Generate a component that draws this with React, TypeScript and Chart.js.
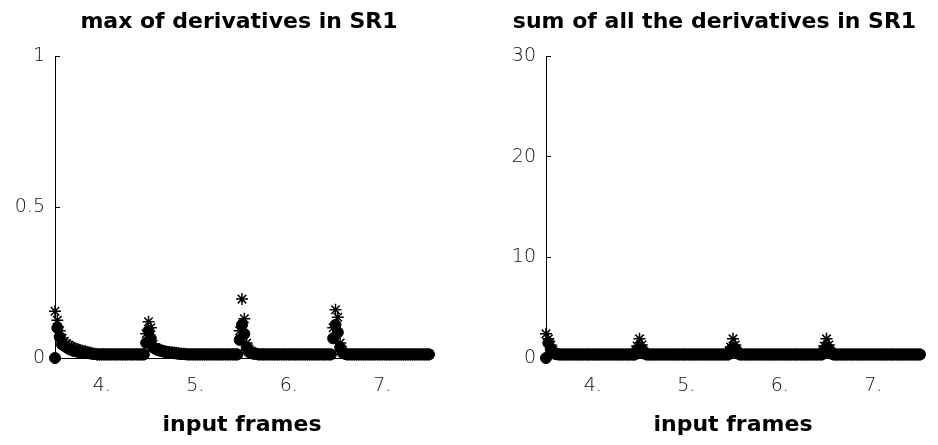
import React, { useEffect, useRef } from 'react';
import { Chart, registerables } from 'chart.js';

Chart.register(...registerables);

// ---------- data ----------
const FRAME_START = 3.5;
const FRAME_STEP = 0.025;

const X_TICKS = [4, 5, 6, 7];
const X_TICK_LABELS = ['4.', '5.', '6.', '7.'];
const LEFT_Y_TICKS = [0, 0.5, 1];
const RIGHT_Y_TICKS = [0, 10, 20, 30];

const LEFT_TITLE = 'max of derivatives in SR1';
const RIGHT_TITLE = 'sum of all the derivatives in SR1';
const X_LABEL = 'input frames';

// max of derivatives, '*' markers
const LEFT_STAR = [
  0.155, 0.125, 0.09, 0.065, 0.055, 0.047, 0.042, 0.037, 0.034, 0.031,
  0.028, 0.026, 0.024, 0.022, 0.02, 0.018, 0.016, 0.014, 0.012, 0.012,
  0.012, 0.012, 0.012, 0.012, 0.012, 0.012, 0.012, 0.012, 0.012, 0.012,
  0.012, 0.012, 0.012, 0.012, 0.012, 0.012, 0.012, 0.012, 0.012, 0.08,
  0.12, 0.1, 0.045, 0.035, 0.03, 0.027, 0.025, 0.023, 0.021, 0.02,
  0.019, 0.018, 0.017, 0.016, 0.015, 0.014, 0.013, 0.012, 0.012, 0.012,
  0.012, 0.012, 0.012, 0.012, 0.012, 0.012, 0.012, 0.012, 0.012, 0.012,
  0.012, 0.012, 0.012, 0.012, 0.012, 0.012, 0.012, 0.012, 0.012, 0.09,
  0.195, 0.13, 0.05, 0.03, 0.022, 0.018, 0.015, 0.012, 0.012, 0.012,
  0.012, 0.012, 0.012, 0.012, 0.012, 0.012, 0.012, 0.012, 0.012, 0.012,
  0.012, 0.012, 0.012, 0.012, 0.012, 0.012, 0.012, 0.012, 0.012, 0.012,
  0.012, 0.012, 0.012, 0.012, 0.012, 0.012, 0.012, 0.012, 0.012, 0.1,
  0.16, 0.135, 0.05, 0.025, 0.016, 0.012, 0.012, 0.012, 0.012, 0.012,
  0.012, 0.012, 0.012, 0.012, 0.012, 0.012, 0.012, 0.012, 0.012, 0.012,
  0.012, 0.012, 0.012, 0.012, 0.012, 0.012, 0.012, 0.012, 0.012, 0.012,
  0.012, 0.012, 0.012, 0.012, 0.012, 0.012, 0.012, 0.012, 0.012, 0.012,
  0.012,
];

// max of derivatives, 'o' markers
const LEFT_CIRC = [
  0.0, 0.1, 0.07, 0.045, 0.04, 0.035, 0.03, 0.027, 0.024, 0.022,
  0.02, 0.019, 0.018, 0.017, 0.016, 0.015, 0.014, 0.013, 0.012, 0.012,
  0.012, 0.012, 0.012, 0.012, 0.012, 0.012, 0.012, 0.012, 0.012, 0.012,
  0.012, 0.012, 0.012, 0.012, 0.012, 0.012, 0.012, 0.012, 0.012, 0.05,
  0.09, 0.065, 0.035, 0.03, 0.026, 0.024, 0.022, 0.02, 0.019, 0.018,
  0.017, 0.016, 0.015, 0.014, 0.013, 0.013, 0.012, 0.012, 0.012, 0.012,
  0.012, 0.012, 0.012, 0.012, 0.012, 0.012, 0.012, 0.012, 0.012, 0.012,
  0.012, 0.012, 0.012, 0.012, 0.012, 0.012, 0.012, 0.012, 0.012, 0.06,
  0.11, 0.08, 0.035, 0.02, 0.016, 0.014, 0.013, 0.012, 0.012, 0.012,
  0.012, 0.012, 0.012, 0.012, 0.012, 0.012, 0.012, 0.012, 0.012, 0.012,
  0.012, 0.012, 0.012, 0.012, 0.012, 0.012, 0.012, 0.012, 0.012, 0.012,
  0.012, 0.012, 0.012, 0.012, 0.012, 0.012, 0.012, 0.012, 0.012, 0.065,
  0.11, 0.085, 0.035, 0.018, 0.014, 0.012, 0.012, 0.012, 0.012, 0.012,
  0.012, 0.012, 0.012, 0.012, 0.012, 0.012, 0.012, 0.012, 0.012, 0.012,
  0.012, 0.012, 0.012, 0.012, 0.012, 0.012, 0.012, 0.012, 0.012, 0.012,
  0.012, 0.012, 0.012, 0.012, 0.012, 0.012, 0.012, 0.012, 0.012, 0.012,
  0.012,
];

// sum of all derivatives, '*' markers
const RIGHT_STAR = [
  2.4, 1.9, 1.3, 0.8, 0.5, 0.4, 0.35, 0.35, 0.35, 0.35,
  0.35, 0.35, 0.35, 0.35, 0.35, 0.35, 0.35, 0.35, 0.35, 0.35,
  0.35, 0.35, 0.35, 0.35, 0.35, 0.35, 0.35, 0.35, 0.35, 0.35,
  0.35, 0.35, 0.35, 0.35, 0.35, 0.35, 0.35, 0.35, 0.35, 1.2,
  1.9, 1.3, 0.6, 0.35, 0.35, 0.35, 0.35, 0.35, 0.35, 0.35,
  0.35, 0.35, 0.35, 0.35, 0.35, 0.35, 0.35, 0.35, 0.35, 0.35,
  0.35, 0.35, 0.35, 0.35, 0.35, 0.35, 0.35, 0.35, 0.35, 0.35,
  0.35, 0.35, 0.35, 0.35, 0.35, 0.35, 0.35, 0.35, 0.35, 1.1,
  1.9, 1.3, 0.6, 0.35, 0.35, 0.35, 0.35, 0.35, 0.35, 0.35,
  0.35, 0.35, 0.35, 0.35, 0.35, 0.35, 0.35, 0.35, 0.35, 0.35,
  0.35, 0.35, 0.35, 0.35, 0.35, 0.35, 0.35, 0.35, 0.35, 0.35,
  0.35, 0.35, 0.35, 0.35, 0.35, 0.35, 0.35, 0.35, 0.35, 1.2,
  1.9, 1.3, 0.6, 0.35, 0.35, 0.35, 0.35, 0.35, 0.35, 0.35,
  0.35, 0.35, 0.35, 0.35, 0.35, 0.35, 0.35, 0.35, 0.35, 0.35,
  0.35, 0.35, 0.35, 0.35, 0.35, 0.35, 0.35, 0.35, 0.35, 0.35,
  0.35, 0.35, 0.35, 0.35, 0.35, 0.35, 0.35, 0.35, 0.35, 0.35,
  0.35,
];

// sum of all derivatives, 'o' markers
const RIGHT_CIRC = [
  0.0, 1.5, 0.9, 0.6, 0.4, 0.35, 0.35, 0.35, 0.35, 0.35,
  0.35, 0.35, 0.35, 0.35, 0.35, 0.35, 0.35, 0.35, 0.35, 0.35,
  0.35, 0.35, 0.35, 0.35, 0.35, 0.35, 0.35, 0.35, 0.35, 0.35,
  0.35, 0.35, 0.35, 0.35, 0.35, 0.35, 0.35, 0.35, 0.35, 0.8,
  1.0, 0.9, 0.45, 0.35, 0.35, 0.35, 0.35, 0.35, 0.35, 0.35,
  0.35, 0.35, 0.35, 0.35, 0.35, 0.35, 0.35, 0.35, 0.35, 0.35,
  0.35, 0.35, 0.35, 0.35, 0.35, 0.35, 0.35, 0.35, 0.35, 0.35,
  0.35, 0.35, 0.35, 0.35, 0.35, 0.35, 0.35, 0.35, 0.35, 0.8,
  1.0, 0.9, 0.45, 0.35, 0.35, 0.35, 0.35, 0.35, 0.35, 0.35,
  0.35, 0.35, 0.35, 0.35, 0.35, 0.35, 0.35, 0.35, 0.35, 0.35,
  0.35, 0.35, 0.35, 0.35, 0.35, 0.35, 0.35, 0.35, 0.35, 0.35,
  0.35, 0.35, 0.35, 0.35, 0.35, 0.35, 0.35, 0.35, 0.35, 0.8,
  1.0, 0.9, 0.45, 0.35, 0.35, 0.35, 0.35, 0.35, 0.35, 0.35,
  0.35, 0.35, 0.35, 0.35, 0.35, 0.35, 0.35, 0.35, 0.35, 0.35,
  0.35, 0.35, 0.35, 0.35, 0.35, 0.35, 0.35, 0.35, 0.35, 0.35,
  0.35, 0.35, 0.35, 0.35, 0.35, 0.35, 0.35, 0.35, 0.35, 0.35,
  0.35,
];

const FRAMES = LEFT_STAR.map((_, i) => FRAME_START + i * FRAME_STEP);

// ---------- styling ----------
const H = 445;
const TITLE_FONT = { family: "'DejaVu Sans', sans-serif", size: 22, weight: 'bold' as const };
const TICK_FONT = { family: "'DejaVu Sans', sans-serif", size: 19, weight: '200' as any };

type PanelProps = {
  left: number;
  width: number;
  rightGap: number;
  title: string;
  yMax: number;
  yTicks: number[];
  circ: number[];
  star: number[];
};

function Panel({ left, width, rightGap, title, yMax, yTicks, circ, star }: PanelProps) {
  const ref = useRef<HTMLCanvasElement | null>(null);

  useEffect(() => {
    const canvas = ref.current;
    if (!canvas) return;
    const toPoints = (arr: number[]) => FRAMES.map((x, i) => ({ x, y: arr[i] }));
    const chart = new Chart(canvas, {
      type: 'scatter',
      data: {
        datasets: [
          {
            data: toPoints(circ),
            yAxisID: 'y',
            pointStyle: 'circle',
            pointRadius: 5.5,
            pointBorderWidth: 1,
            pointBorderColor: '#000',
            pointBackgroundColor: '#000',
            clip: false as any,
          },
          {
            data: toPoints(star),
            yAxisID: 'y',
            pointStyle: 'star',
            pointRadius: 6,
            pointBorderWidth: 1.5,
            pointBorderColor: '#000',
            pointBackgroundColor: '#000',
            clip: false as any,
          },
        ],
      },
      options: {
        animation: false,
        responsive: false,
        devicePixelRatio: 1,
        events: [],
        layout: { padding: 0 },
        plugins: {
          legend: { display: false },
          tooltip: { enabled: false },
          title: {
            display: true,
            text: title,
            color: '#000',
            font: TITLE_FONT,
            padding: { top: 9, bottom: 20.6 },
          },
        },
        scales: {
          x: {
            type: 'linear',
            position: 'bottom',
            min: FRAME_START,
            max: FRAMES[FRAMES.length - 1],
            afterBuildTicks: (s: any) => {
              s.ticks = X_TICKS.map((v) => ({ value: v }));
            },
            afterFit: (s: any) => {
              s.height = 87;
            },
            ticks: {
              autoSkip: false,
              maxRotation: 0,
              color: '#111',
              font: TICK_FONT,
              padding: 22,
              callback: (_v: any, i: number) => X_TICK_LABELS[i],
            },
            grid: {
              display: true,
              drawOnChartArea: false,
              drawTicks: true,
              tickLength: -5,
              color: '#000',
            },
            border: { display: true, color: '#000', width: 1 },
            title: {
              display: true,
              text: X_LABEL,
              color: '#000',
              font: TITLE_FONT,
              padding: { top: 0, bottom: 7 },
            },
          },
          y: {
            type: 'linear',
            position: 'left',
            min: 0,
            max: yMax,
            afterBuildTicks: (s: any) => {
              s.ticks = yTicks.map((v) => ({ value: v }));
            },
            afterFit: (s: any) => {
              s.width = 55;
            },
            ticks: {
              color: '#111',
              font: TICK_FONT,
              padding: 15,
              callback: (v: any) => String(v),
            },
            grid: {
              display: true,
              drawOnChartArea: false,
              drawTicks: true,
              tickLength: -5,
              color: '#000',
            },
            border: { display: true, color: '#000', width: 1 },
          },
          yR: {
            type: 'linear',
            position: 'right',
            display: true,
            ticks: { display: false },
            grid: { display: false, drawTicks: false },
            border: { display: false },
            afterFit: (s: any) => {
              s.width = rightGap;
            },
          },
        },
      } as any,
    });
    return () => chart.destroy();
  }, []);

  return (
    <canvas
      ref={ref}
      width={width}
      height={H}
      style={{ position: 'absolute', left, top: 0, width, height: H, display: 'block' }}
    />
  );
}

export default function App() {
  return (
    <div
      style={{
        position: 'absolute',
        left: 0,
        top: 0,
        width: 938,
        height: H,
        background: '#fff',
        overflow: 'hidden',
      }}
    >
      <Panel
        left={0}
        width={478}
        rightGap={49}
        title={LEFT_TITLE}
        yMax={1}
        yTicks={LEFT_Y_TICKS}
        circ={LEFT_CIRC}
        star={LEFT_STAR}
      />
      <Panel
        left={491}
        width={447}
        rightGap={18}
        title={RIGHT_TITLE}
        yMax={30}
        yTicks={RIGHT_Y_TICKS}
        circ={RIGHT_CIRC}
        star={RIGHT_STAR}
      />
    </div>
  );
}
